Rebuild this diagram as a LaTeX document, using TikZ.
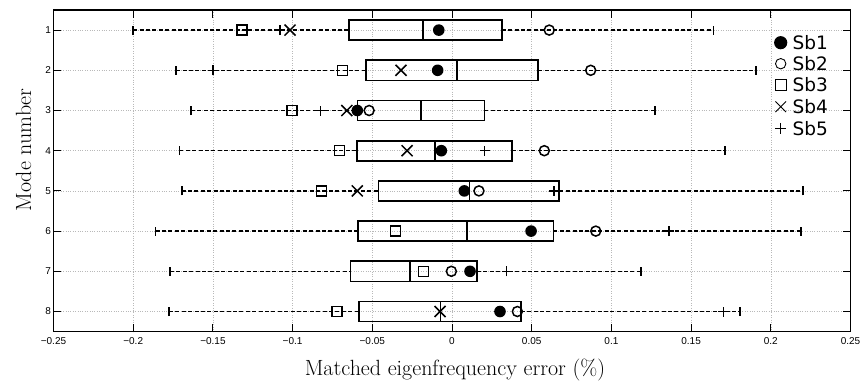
\documentclass[tikz,border=0pt]{standalone}
\usepackage{fontspec}
\newfontfamily\ticksf{Liberation Sans}
\newfontfamily\legsf{DejaVu Sans}

\tikzset{
  gridline/.style={gray!55, line width=0.6pt, dash pattern=on 0.7pt off 1.7pt},
  frame/.style={line width=1.2pt},
  tickmark/.style={line width=1.0pt},
  whisk/.style={line width=1.5pt, dash pattern=on 4pt off 2.4pt},
  whiskcap/.style={line width=1.8pt},
  boxline/.style={line width=1.7pt},
  mk/.style={line width=1.5pt},
  legmk/.style={line width=0.9pt},
  ticklab/.style={font=\ticksf\fontsize{10}{12}\selectfont, inner sep=0pt},
  legtext/.style={font=\legsf\fontsize{18.5}{22}\selectfont, inner sep=0pt, anchor=west},
  axtitle/.style={inner sep=0pt, font=\fontsize{22}{26}\selectfont},
  % sample markers for the five substructures
  pics/sbone/.style={code={\fill (0,0) circle[radius=5.8pt];}},
  pics/sbtwo/.style={code={\draw[mk] (0,0) circle[radius=5pt];}},
  pics/sbthree/.style={code={\draw[mk] (-5pt,-5pt) rectangle (5pt,5pt);}},
  pics/sbfour/.style={code={\draw[mk] (-5.5pt,-5.5pt) -- (5.5pt,5.5pt) (-5.5pt,5.5pt) -- (5.5pt,-5.5pt);}},
  pics/sbfive/.style={code={\draw[mk] (-5pt,0) -- (5pt,0) (0,-5pt) -- (0,5pt);}},
}

% one horizontal box: row, lower whisker, q1, median, q3, upper whisker
\newcommand\bxp[6]{%
  \draw[whisk] (#2,#1) -- (#3,#1);
  \draw[whisk] (#5,#1) -- (#6,#1);
  \draw[whiskcap] ([yshift=-4.5pt]#2,#1) -- ([yshift=4.5pt]#2,#1);
  \draw[whiskcap] ([yshift=-4.5pt]#6,#1) -- ([yshift=4.5pt]#6,#1);
  \draw[boxline] (#3,#1-0.25) rectangle (#5,#1+0.25);
  \draw[boxline] (#4,#1-0.25) -- (#4,#1+0.25);
}

\begin{document}
\begin{tikzpicture}[x=1pt, y=-1pt]
\useasboundingbox (0,0) rectangle (863,386);

% data frame: value v, mode r
\begin{scope}[shift={(452,-10.1)}, x=1594pt, y=-40.2pt]
  % grid
  \foreach \v in {-0.2,-0.15,...,0.21}
    \draw[gridline] (\v,0.5) -- (\v,8.5);
  \foreach \r in {1,...,8}
    \draw[gridline] (-0.25,\r) -- (0.25,\r);

  % boxes
  \bxp{1}{-0.2}{-0.0646}{-0.0184}{0.0312}{0.164}
  \bxp{2}{-0.173}{-0.054}{0.0033}{0.0541}{0.1905}
  \bxp{3}{-0.1637}{-0.0592}{-0.0196}{0.0203}{0.1276}
  \bxp{4}{-0.171}{-0.0594}{-0.0105}{0.0378}{0.1713}
  \bxp{5}{-0.1696}{-0.0462}{0.0109}{0.0673}{0.2204}
  \bxp{6}{-0.186}{-0.0588}{0.0092}{0.0636}{0.2188}
  \bxp{7}{-0.1769}{-0.0636}{-0.0264}{0.0155}{0.1186}
  \bxp{8}{-0.1775}{-0.0583}{-0.0073}{0.0431}{0.1809}

  % substructure values
  \pic at (-0.0083,1) {sbone};   \pic at (0.061,1) {sbtwo};
  \pic at (-0.1316,1) {sbthree}; \pic at (-0.1016,1) {sbfour};
  \pic at (-0.1079,1) {sbfive};

  \pic at (-0.009,2) {sbone};    \pic at (0.087,2) {sbtwo};
  \pic at (-0.0688,2) {sbthree}; \pic at (-0.032,2) {sbfour};
  \pic at (-0.150,2) {sbfive};

  \pic at (-0.0594,3) {sbone};   \pic at (-0.052,3) {sbtwo};
  \pic at (-0.1004,3) {sbthree}; \pic at (-0.066,3) {sbfour};
  \pic at (-0.0824,3) {sbfive};

  \pic at (-0.0067,4) {sbone};   \pic at (0.0579,4) {sbtwo};
  \pic at (-0.0705,4) {sbthree}; \pic at (-0.0282,4) {sbfour};
  \pic at (0.0205,4) {sbfive};

  \pic at (0.0077,5) {sbone};    \pic at (0.0169,5) {sbtwo};
  \pic at (-0.082,5) {sbthree};  \pic at (-0.0594,5) {sbfour};
  \pic at (0.064,5) {sbfive};

  \pic at (0.0496,6) {sbone};    \pic at (0.0902,6) {sbtwo};
  \pic at (-0.0353,6) {sbthree}; \pic at (0.1361,6) {sbfive};

  \pic at (0.0113,7) {sbone};    \pic at (-0.0004,7) {sbtwo};
  \pic at (-0.018,7) {sbthree};  \pic at (0.0343,7) {sbfive};

  \pic at (0.0301,8) {sbone};    \pic at (0.041,8) {sbtwo};
  \pic at (-0.072,8) {sbthree};  \pic at (-0.0075,8) {sbfour};
  \pic at (0.1702,8) {sbfive};

  % frame and ticks
  \draw[frame] (-0.25,0.5) rectangle (0.25,8.5);
  \foreach \v in {-0.2,-0.15,...,0.21} {
    \draw[tickmark] (\v,8.5) -- ([yshift=7.5pt]\v,8.5);
    \draw[tickmark] (\v,0.5) -- ([yshift=-7.5pt]\v,0.5);
  }
  \foreach \r in {1,...,8} {
    \draw[tickmark] (-0.25,\r) -- ([xshift=7.5pt]-0.25,\r);
    \draw[tickmark] (0.25,\r) -- ([xshift=-7.5pt]0.25,\r);
    \node[ticklab, anchor=east] (ytl\r) at ([xshift=-2.3pt]-0.25,\r) {\r};
  }
  \foreach \v/\t [count=\i] in {-0.25/−0.25,-0.2/−0.2,-0.15/−0.15,-0.1/−0.1,
      -0.05/−0.05,0/0,0.05/0.05,0.1/0.1,0.15/0.15,0.2/0.2,0.25/0.25}
    \node[ticklab, anchor=base] (xtl\i) at ([yshift=-12.5pt]\v,8.5) {\t};
\end{scope}

% axis titles
\node[axtitle, anchor=base] (xlab) at (455,375.5)
  {Matched eigenfrequency error (\%)};
\node[axtitle, rotate=90, anchor=base] (ylab) at (31,150)
  {Mode number};

% legend
\fill (780.7,42.7) circle[radius=6.6pt];
\draw[legmk] (780.7,63.7) circle[radius=5.2pt];
\draw[legmk] (775.4,79.7) rectangle (786,90.3);
\draw[legmk] (775.4,101.4) -- (786,112) (775.4,112) -- (786,101.4);
\draw[legmk] (775.2,128.3) -- (786.2,128.3) (780.7,122.8) -- (780.7,133.8);
\node[legtext] (l1) at (792.3,42.7) {Sb1};
\node[legtext] (l2) at (792.3,63.7) {Sb2};
\node[legtext] (l3) at (792.3,85) {Sb3};
\node[legtext] (l4) at (792.3,106.7) {Sb4};
\node[legtext] (l5) at (792.3,128.3) {Sb5};
\end{tikzpicture}
\end{document}
